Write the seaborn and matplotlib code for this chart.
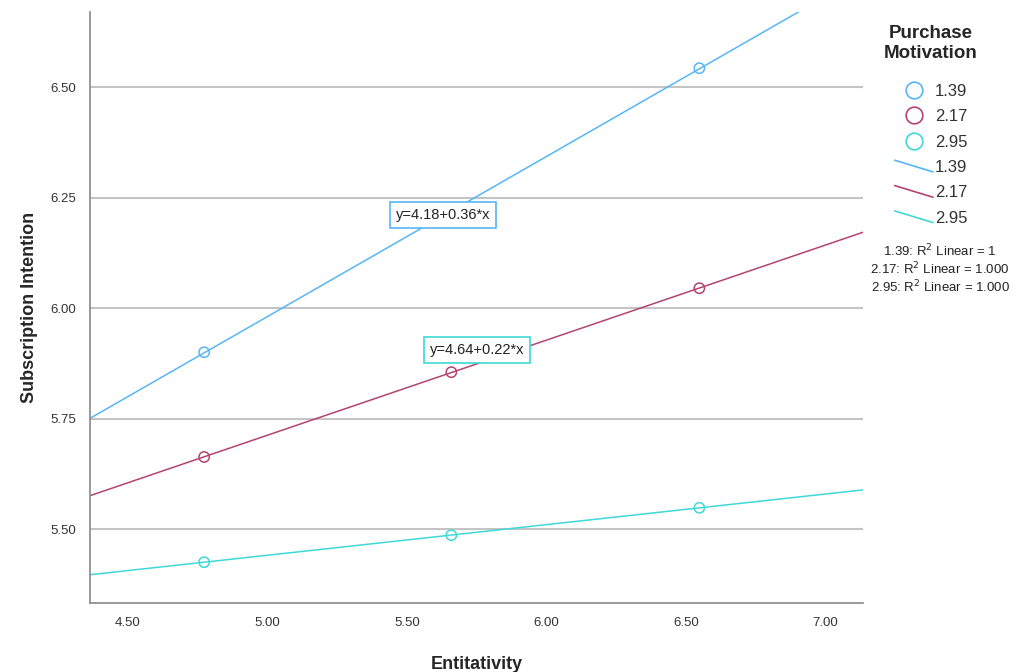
import numpy as np
import pandas as pd
import matplotlib
matplotlib.use('Agg')
import matplotlib.pyplot as plt
import seaborn as sns
from matplotlib.lines import Line2D
from matplotlib.legend_handler import HandlerBase

# values
entitativity = [4.773, 5.659, 6.548]
groups = ['1.39', '2.17', '2.95']
intention_139 = [5.900, 6.217, 6.543]
intention_217 = [5.663, 5.855, 6.045]
intention_295 = [5.425, 5.486, 5.548]
r2_labels = ['1.39: R$^2$ Linear = 1', '2.17: R$^2$ Linear = 1.000', '2.95: R$^2$ Linear = 1.000']
eq_labels = ['y=4.18+0.36*x', 'y=4.64+0.22*x']

colors = {'1.39': '#56B6F7', '2.17': '#B4446F', '2.95': '#40D8D8'}

data = pd.DataFrame({
    'Entitativity': entitativity * 3,
    'Subscription Intention': intention_139 + intention_217 + intention_295,
    'Purchase Motivation': [g for g in groups for _ in entitativity],
})


class DiagHandler(HandlerBase):
    # slanted line in the legend, like SPSS fit lines
    def create_artists(self, legend, orig, xdescent, ydescent, width, height, fontsize, trans):
        ln = Line2D([-xdescent, -xdescent + width], [height * 1.0, height * 0.0],
                    color=orig.get_color(), lw=orig.get_linewidth(), transform=trans)
        return [ln]


sns.set_style('white')
plt.rcParams['font.family'] = ['Liberation Sans', 'DejaVu Sans']

fig = plt.figure(figsize=(10.23, 6.72), dpi=100)
ax = fig.add_axes([0.088, 0.103, 0.756, 0.879])
ax.set_xlim(4.364, 7.136)
ax.set_ylim(5.333, 6.67)

for g in groups:
    sub = data[data['Purchase Motivation'] == g]
    sns.regplot(x='Entitativity', y='Subscription Intention', data=sub, scatter=False,
                ci=None, truncate=False, color=colors[g], line_kws={'lw': 1.1}, ax=ax)

sns.scatterplot(x='Entitativity', y='Subscription Intention', hue='Purchase Motivation',
                data=data, palette=colors, marker='o', s=55,
                linewidth=1.1, legend=False, ax=ax)
# open circles
for coll in ax.collections:
    fc = coll.get_facecolors()
    if len(fc):
        coll.set_edgecolors(fc)
        coll.set_facecolors('none')

ax.set_yticks([5.50, 5.75, 6.00, 6.25, 6.50])
ax.set_xticks([4.5, 5.0, 5.5, 6.0, 6.5, 7.0])
ax.set_yticklabels(['%.2f' % v for v in ax.get_yticks()], color='#333333', fontsize=9.5)
ax.set_xticklabels(['%.2f' % v for v in ax.get_xticks()], color='#333333', fontsize=9.5)
ax.tick_params(length=0, pad=10)
ax.yaxis.grid(True, color='#c4c4c4', lw=1.5)
ax.set_axisbelow(True)
for s in ['top', 'right']:
    ax.spines[s].set_visible(False)
for s in ['left', 'bottom']:
    ax.spines[s].set_color('#888888')
    ax.spines[s].set_linewidth(1.2)

ax.set_xlabel('Entitativity', fontsize=13, fontweight='bold', labelpad=20)
ax.set_ylabel('Subscription Intention', fontsize=13, fontweight='bold', labelpad=9)

ax.text(5.63, 6.21, eq_labels[0], fontsize=10.5, ha='center', va='center', color='#222222',
        bbox=dict(boxstyle='square,pad=0.4', fc='white', ec=colors['1.39'], lw=1.2))
ax.text(5.75, 5.905, eq_labels[1], fontsize=10.5, ha='center', va='center', color='#222222',
        bbox=dict(boxstyle='square,pad=0.4', fc='white', ec=colors['2.95'], lw=1.2))

handles = [Line2D([], [], ls='none', marker='o', mfc='none', mec=colors[g], ms=12, mew=1.2)
           for g in groups]
fit_handles = [Line2D([0, 1], [1, 0], color=colors[g], lw=1.2) for g in groups]
leg = fig.legend(handles + fit_handles, groups + groups, title='Purchase\nMotivation',
                 loc='upper center', bbox_to_anchor=(0.91, 0.985), frameon=False,
                 fontsize=12, handlelength=2.3, handletextpad=0.1, labelspacing=0.62,
                 handler_map={h: DiagHandler() for h in fit_handles})
leg.get_title().set_fontweight('bold')
leg.get_title().set_fontsize(13.5)
leg.get_title().set_multialignment('center')
leg._legend_box.sep = 16
for t in leg.get_texts():
    t.set_color('#333333')

for i, txt in enumerate(r2_labels):
    fig.text(0.919, 0.627 - i * 0.027, txt, ha='center', va='center', fontsize=9.5, color='#222222')

fig.savefig('out.png', dpi=100)
